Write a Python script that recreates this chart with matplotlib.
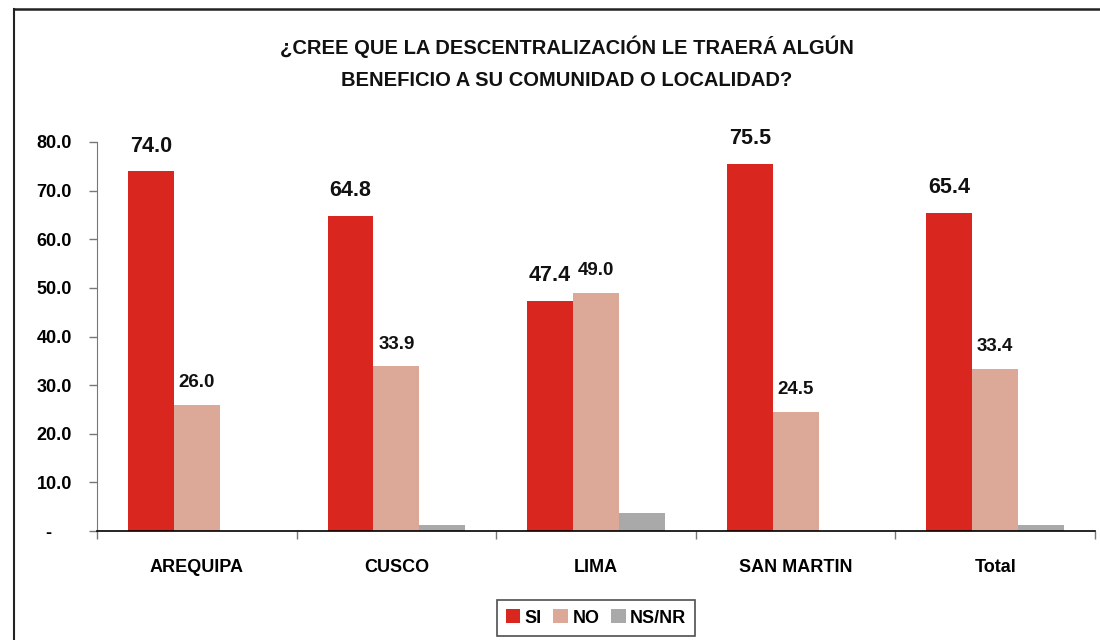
import matplotlib
matplotlib.use("Agg")
import matplotlib.pyplot as plt
from matplotlib import font_manager
from matplotlib.lines import Line2D
import numpy as np

categories = ["AREQUIPA", "CUSCO", "LIMA", "SAN MARTIN", "Total"]
si = [74.0, 64.8, 47.4, 75.5, 65.4]
no = [26.0, 33.9, 49.0, 24.5, 33.4]
nsnr = [0.0, 1.3, 3.7, 0.0, 1.2]
series_names = ["SI", "NO", "NS/NR"]
yticks = [0, 10, 20, 30, 40, 50, 60, 70, 80]
title = "¿CREE QUE LA DESCENTRALIZACIÓN LE TRAERÁ ALGÚN\nBENEFICIO A SU COMUNIDAD O LOCALIDAD?"

colors = ["#D9261E", "#DCA898", "#A9A9A9"]

names = {f.name for f in font_manager.fontManager.ttflist}
main = "Liberation Sans" if "Liberation Sans" in names else "DejaVu Sans"

fig = plt.figure(figsize=(11, 6.4), dpi=100)
ax = fig.add_axes([97/1100, 1-531/640, (1095-97)/1100, (531-142)/640])

x = np.arange(len(categories))
w = 0.23
b1 = ax.bar(x - w, si, w, color=colors[0], label=series_names[0])
b2 = ax.bar(x, no, w, color=colors[1], label=series_names[1])
b3 = ax.bar(x + w, nsnr, w, color=colors[2], label=series_names[2])

for xi, v in zip(x - w, si):
    ax.text(xi, v + 3.0, f"{v:.1f}", ha="center", va="bottom", fontsize=15.5,
            fontweight="bold", family=main, color="#111111")
for xi, v in zip(x, no):
    ax.text(xi, v + 2.8, f"{v:.1f}", ha="center", va="bottom", fontsize=13.5,
            fontweight="bold", family=main, color="#111111")

ax.set_xlim(-0.5, len(categories) - 0.5)
ax.set_ylim(0, 80)
ax.set_yticks(yticks)
ax.set_yticklabels(["-    " if t == 0 else f"{t:.1f}" for t in yticks],
                   fontsize=13, fontweight="bold", family=main)
ax.set_xticks(x)
ax.set_xticklabels(categories, fontsize=13, fontweight="bold", family=main)
ax.tick_params(axis="x", length=0, pad=20)
ax.set_xticks(np.arange(-0.5, len(categories)), minor=True)
ax.tick_params(axis="x", which="minor", length=6, color="#777777", width=1)
ax.tick_params(axis="y", length=6, color="#777777", width=1, pad=12)

for s in ["top", "right"]:
    ax.spines[s].set_visible(False)
ax.spines["left"].set_color("#777777")
ax.spines["bottom"].set_color("#000000")
ax.spines["bottom"].set_linewidth(1.2)

fig.text(567/1100, 1-63/640, title, ha="center", va="center", fontsize=14.5,
         fontweight="bold", family=main, linespacing=1.85, color="#111111")

leg = fig.legend(handles=[b1, b2, b3], loc="center", bbox_to_anchor=(596/1100, 1-618/640),
                 ncol=3, frameon=True, fancybox=False, edgecolor="#222222",
                 prop={"family": main, "weight": "bold", "size": 13},
                 handlelength=0.8, handleheight=0.8, handletextpad=0.25, columnspacing=0.65,
                 borderpad=0.5, borderaxespad=0)
leg.get_frame().set_linewidth(1.2)

fig.add_artist(Line2D([14/1100, 1], [1-9/640, 1-9/640], color="#222222", lw=1.8,
                      transform=fig.transFigure))
fig.add_artist(Line2D([14/1100, 14/1100], [0, 1-9/640], color="#222222", lw=1.5,
                      transform=fig.transFigure))

fig.savefig("out.png", dpi=100)
